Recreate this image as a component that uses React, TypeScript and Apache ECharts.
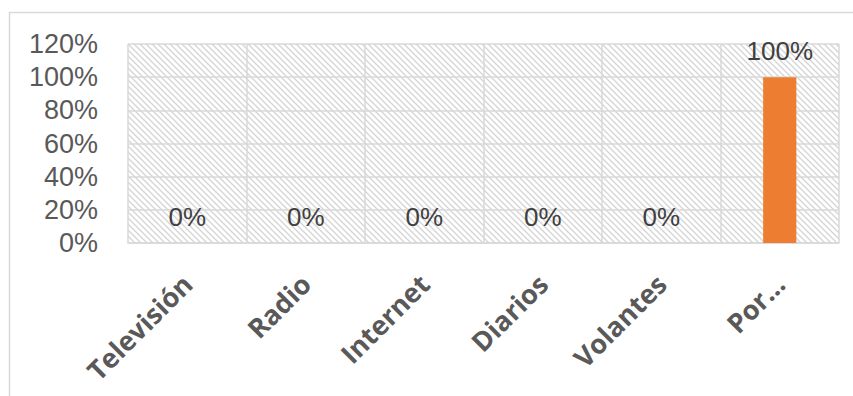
import React, { useEffect, useRef } from "react";
import * as echarts from "echarts";

const categories = ["Televisión", "Radio", "Internet", "Diarios", "Volantes", "Por…"];
const values = [0, 0, 0, 0, 0, 100];
const yTicks = [0, 20, 40, 60, 80, 100, 120];

function makeHatch(): HTMLCanvasElement {
  const s = 6;
  const c = document.createElement("canvas");
  c.width = s;
  c.height = s;
  const ctx = c.getContext("2d")!;
  ctx.fillStyle = "#ffffff";
  ctx.fillRect(0, 0, s, s);
  ctx.strokeStyle = "#d4d4d4";
  ctx.lineWidth = 1.3;
  ctx.beginPath();
  ctx.moveTo(-1, -1);
  ctx.lineTo(s + 1, s + 1);
  ctx.moveTo(-1, s - 1);
  ctx.lineTo(1, s + 1);
  ctx.moveTo(s - 1, -1);
  ctx.lineTo(s + 1, 1);
  ctx.stroke();
  return c;
}

export default function App() {
  const ref = useRef<HTMLDivElement>(null);
  useEffect(() => {
    if (!ref.current) return;
    const chart = echarts.init(ref.current, undefined, { renderer: "svg" });
    const font = "'Open Sans', 'Liberation Sans', sans-serif";
    const numFont = "'Liberation Sans', Arial, sans-serif";
    chart.setOption({
      animation: false,
      backgroundColor: "#ffffff",
      textStyle: { fontFamily: font },
      graphic: [
        {
          type: "rect",
          shape: { x: 9.5, y: 12.5, width: 900, height: 500 },
          style: { fill: "none", stroke: "#d9d9d9", lineWidth: 1.5 },
          silent: true,
          z: -10,
        },
      ],
      grid: {
        left: 128,
        right: 14,
        top: 44,
        bottom: 153,
        show: true,
        borderWidth: 0,
        backgroundColor: { image: makeHatch(), repeat: "repeat" },
      },
      xAxis: {
        type: "category",
        data: categories,
        axisLine: { show: true, lineStyle: { color: "#d9d9d9", width: 1.5 } },
        axisTick: { show: false },
        splitLine: { show: true, lineStyle: { color: "#d9d9d9", width: 1.5 } },
        axisLabel: {
          rotate: 45,
          interval: 0,
          margin: 36,
          color: "#595959",
          fontSize: 27,
          fontWeight: "bold",
          fontFamily: font,
        },
      },
      yAxis: {
        type: "value",
        min: 0,
        max: 120,
        interval: 20,
        axisLine: { show: false },
        axisTick: { show: false },
        splitLine: { show: true, lineStyle: { color: "#d9d9d9", width: 1.5 } },
        axisLabel: {
          margin: 30,
          color: "#595959",
          fontSize: 27,
          lineHeight: 28,
          fontFamily: numFont,
          formatter: (v: number) => (yTicks.includes(v) ? v + "%" : ""),
        },
      },
      series: [
        {
          type: "bar",
          data: values,
          barWidth: "28%",
          itemStyle: { color: "#ED7D31" },
          label: {
            show: true,
            position: "top",
            distance: 13,
            color: "#404040",
            fontSize: 26,
            fontFamily: numFont,
            formatter: (p: any) => p.value + "%",
          },
        },
      ],
    });
    return () => chart.dispose();
  }, []);
  return (
    <div
      ref={ref}
      style={{ position: "fixed", left: 0, top: 0, width: 853, height: 396 }}
    />
  );
}
